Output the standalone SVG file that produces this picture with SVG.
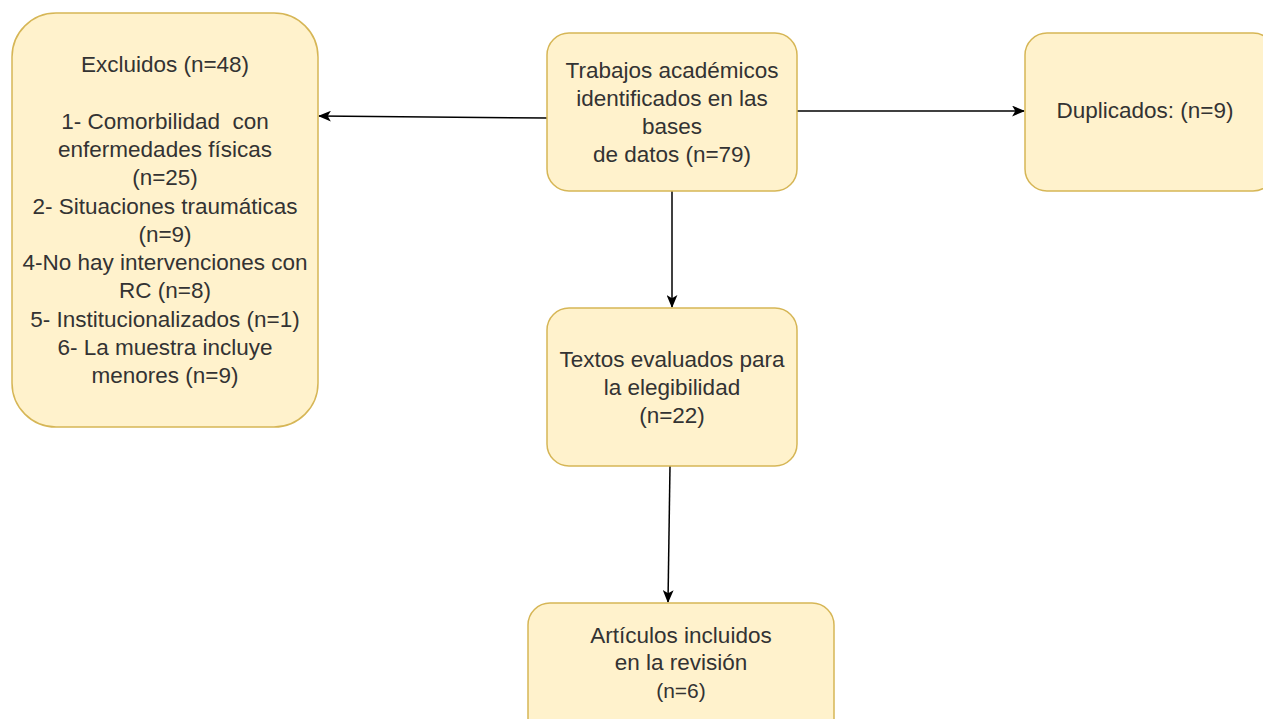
<svg xmlns="http://www.w3.org/2000/svg" width="1263" height="719" viewBox="0 0 1263 719">
<style>
.box{fill:#fff2cc;stroke:#d6b656;stroke-width:1.5}
.t{font-family:"Liberation Sans",Arial,sans-serif;font-size:22.5px;fill:#333333;text-anchor:middle}
.s{font-size:21px}
.c{fill:none;stroke:#000000;stroke-width:1.5}
</style>
<defs>
<marker id="ah" viewBox="0 0 12 10" refX="11" refY="5" markerWidth="13" markerHeight="11" markerUnits="userSpaceOnUse" orient="auto">
<path d="M0,0 L12,5 L0,10 L3,5 Z" fill="#000000"/>
</marker>
</defs>
<rect width="1263" height="719" fill="#ffffff"/>
<g id="connectors">
<path class="c" d="M547,118 L319,116" marker-end="url(#ah)"/>
<path class="c" d="M797,111 L1024,111" marker-end="url(#ah)"/>
<path class="c" d="M672,191 L672,307" marker-end="url(#ah)"/>
<path class="c" d="M670,466 L668,602" marker-end="url(#ah)"/>
</g>
<g id="excluidos">
<rect class="box" x="12" y="13" width="306" height="414" rx="44" ry="44"/>
<text class="t" x="165" y="72">Excluidos (n=48)</text>
<text class="t" x="165" y="128.6">1- Comorbilidad&#160; con</text>
<text class="t" x="165" y="156.9">enfermedades físicas</text>
<text class="t" x="165" y="185.2">(n=25)</text>
<text class="t" x="165" y="213.5">2- Situaciones traumáticas</text>
<text class="t" x="165" y="241.8">(n=9)</text>
<text class="t" x="165" y="270.1">4-No hay intervenciones con</text>
<text class="t" x="165" y="298.4">RC (n=8)</text>
<text class="t" x="165" y="326.7">5- Institucionalizados (n=1)</text>
<text class="t" x="165" y="355">6- La muestra incluye</text>
<text class="t" x="165" y="383.3">menores (n=9)</text>
</g>
<g id="trabajos">
<rect class="box" x="547" y="33" width="250" height="158" rx="22" ry="22"/>
<text class="t" x="672" y="78">Trabajos académicos</text>
<text class="t" x="672" y="106">identificados en las</text>
<text class="t" x="672" y="134">bases</text>
<text class="t" x="672" y="162">de datos (n=79)</text>
</g>
<g id="duplicados">
<rect class="box" x="1025" y="33" width="250" height="158" rx="22" ry="22"/>
<text class="t" x="1145" y="118">Duplicados: (n=9)</text>
</g>
<g id="textos">
<rect class="box" x="547" y="308" width="250" height="158" rx="22" ry="22"/>
<text class="t" x="672" y="367">Textos evaluados para</text>
<text class="t" x="672" y="395">la elegibilidad</text>
<text class="t" x="672" y="423">(n=22)</text>
</g>
<g id="articulos">
<rect class="box" x="528" y="603" width="306" height="140" rx="22" ry="22"/>
<text class="t" x="681" y="643">Artículos incluidos</text>
<text class="t" x="681" y="670">en la revisión</text>
<text class="t s" x="681" y="698">(n=6)</text>
</g>
</svg>
